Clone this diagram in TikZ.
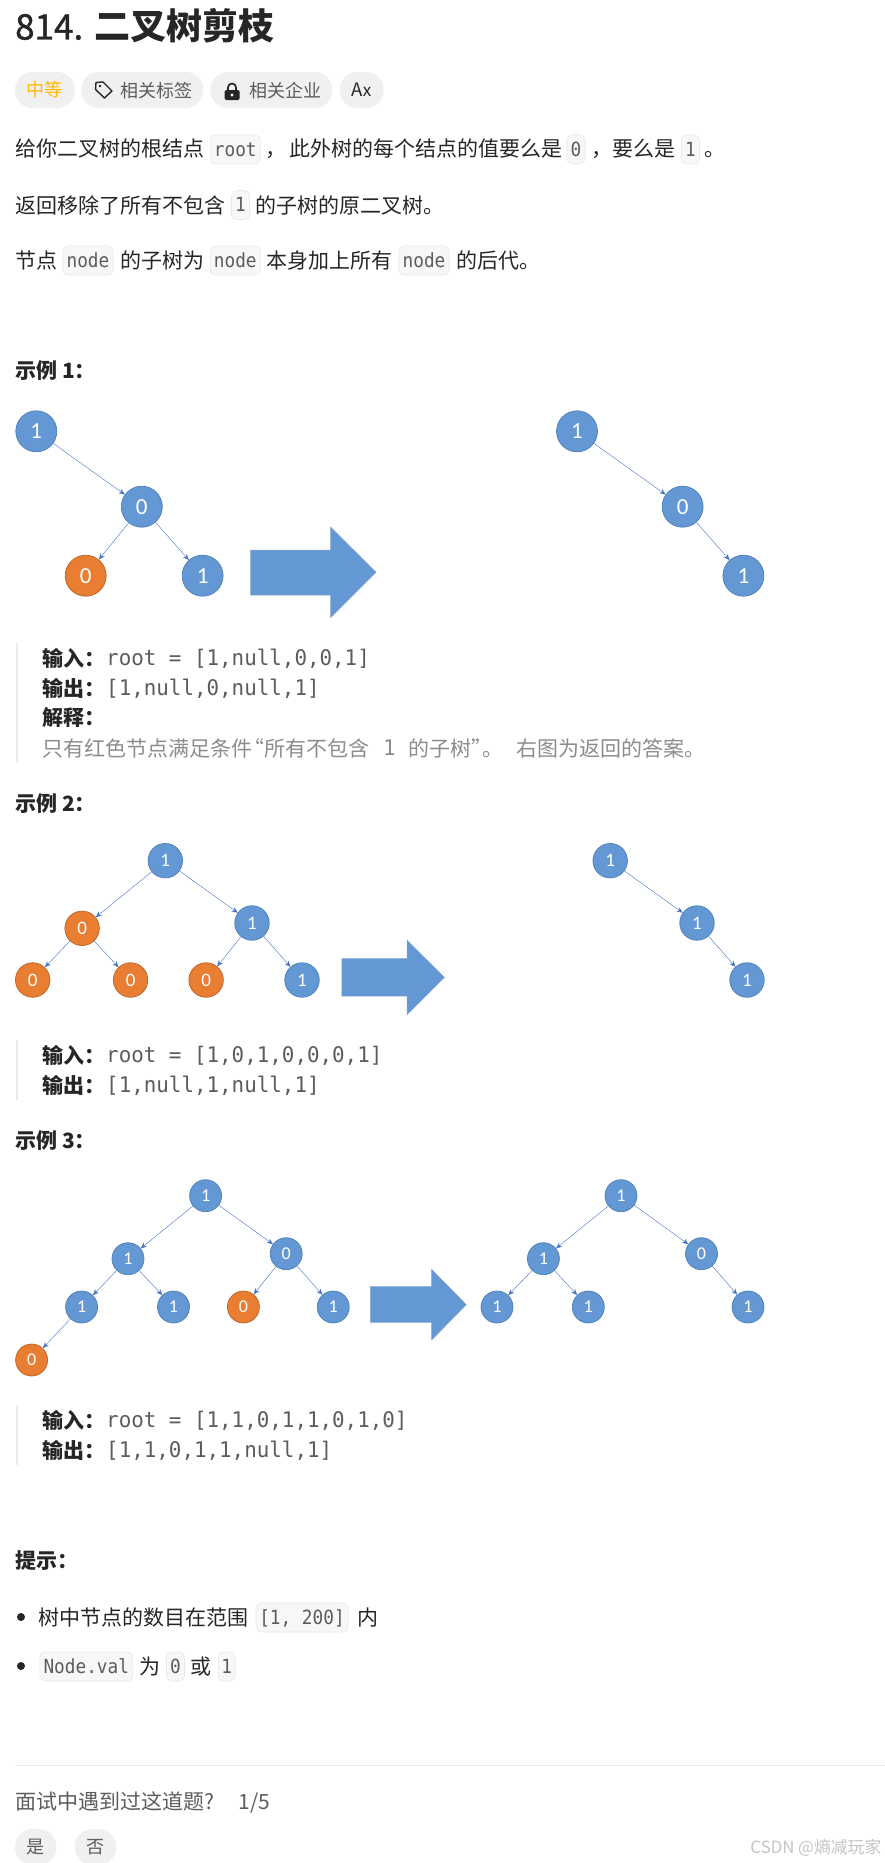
\documentclass[tikz,border=0pt]{standalone}
\usepackage{fontspec}
\setmainfont{Noto Sans CJK SC}
\setmonofont{DejaVu Sans Mono}
\newfontfamily\digitfont{Carlito}
\newfontfamily\titlefont[FakeBold=1.3]{Noto Sans CJK SC}
\newfontfamily\codefont[FakeStretch=0.91]{DejaVu Sans Mono}
\newfontfamily\quotefont[FakeStretch=0.97]{DejaVu Sans Mono}
\usepackage{xcolor}
\usetikzlibrary{arrows, arrows.meta, positioning}
\definecolor{inkdark}{HTML}{262626}
\definecolor{inkgray}{HTML}{5C5C5C}
\definecolor{inklight}{HTML}{8C8C8C}
\definecolor{pillbg}{HTML}{F0F0F0}
\definecolor{codebg}{HTML}{F7F7F8}
\definecolor{codeline}{HTML}{E8E8E8}
\definecolor{barline}{HTML}{EAEAEA}
\definecolor{amber}{HTML}{FFB800}
\definecolor{treeblue}{HTML}{6498D4}
\definecolor{treeedge}{HTML}{4C7FB5}
\definecolor{treeorange}{HTML}{E97D32}
\definecolor{orangeedge}{HTML}{B8642A}
\definecolor{linkblue}{HTML}{4472C4}
\definecolor{markgray}{HTML}{C4C4C4}

\begin{document}
\begin{tikzpicture}[
    x=1pt, y=-1pt,
    every node/.style={inner sep=0pt, text=inkdark},
    arrow/.style={-{Stealth[length=6pt,width=5pt]}, draw=linkblue, line width=.4pt},
    txt/.style={anchor=west, text height=18.5pt, text depth=2.5pt, font=\fontsize{21}{25}\selectfont},
    headtxt/.style={txt, font=\fontsize{21}{25}\selectfont\bfseries},
    graytxt/.style={txt, text=inkgray},
    lighttxt/.style={txt, text=inklight},
    smalltxt/.style={anchor=west, text height=16pt, text depth=2pt, text=inkgray, font=\fontsize{18}{22}\selectfont},
    quotetxt/.style={anchor=west, text=inkgray, text height=15pt, text depth=1pt, font=\quotefont\fontsize{21.5}{25}\selectfont},
    quotebar/.style={draw=barline, line width=2.5pt},
    pill/.style={fill=pillbg, rounded corners=17.5pt, minimum height=36pt},
    codebox/.style={draw=codeline, fill=codebg, rounded corners=5pt, minimum height=29pt, text height=13pt, text depth=0pt, text=inkgray, line width=.6pt, font=\codefont\fontsize{19.5}{23}\selectfont},
    bluenode/.style={circle, draw=treeedge, fill=treeblue, text=white, line width=.7pt},
    orangenode/.style={circle, draw=orangeedge, fill=treeorange, text=white, line width=.7pt},
    bigtree/.style={minimum size=41pt, font=\digitfont\fontsize{23}{26}\selectfont},
    midtree/.style={minimum size=34.5pt, font=\digitfont\fontsize{19}{22}\selectfont},
    smalltree/.style={minimum size=32pt, font=\digitfont\fontsize{18}{21}\selectfont},
    bigarrow/.style={fill=treeblue, draw=treeedge!70, line width=.5pt}
  ]
  \useasboundingbox (0,0) rectangle (885,1863);

  % Title
  \node[anchor=west, font=\titlefont\fontsize{35}{40}\selectfont] (titlenum) at (15,27) {814.};
  \node[anchor=west, font=\fontsize{36}{40}\selectfont\bfseries] (titlename) at (94,26) {二叉树剪枝};

  % Pills under the title
  \node[pill, minimum width=60pt, text=amber, font=\fontsize{18}{22}\selectfont] (level) at (45,90) {中等};
  \node[pill, minimum width=122pt] (tagpill) at (142.3,90) {};
  \node[smalltxt] (tagtext) at (120,90) {相关标签};
  \node[pill, minimum width=122pt] (firmpill) at (271.3,90) {};
  \node[smalltxt] (firmtext) at (249,90) {相关企业};
  \node[pill, minimum width=44pt, font=\fontsize{18.5}{22}\selectfont] (langpill) at (361.7,90) {A\kern-.3pt{\fontsize{17}{18}\selectfont x}};

  % Tag icon
  \draw[inkdark, line width=1.4pt, line join=round] (96,82.5) -- (103,82) -- (112,91) -- (104.5,98) -- (95.5,89.5) -- cycle;
  \fill[inkdark] (100,86) circle (1.3pt);

  % Lock icon
  \draw[inkdark, line width=1.7pt] (228,91) -- (228,87.5) arc (180:360:4) -- (236,91);
  \fill[inkdark, rounded corners=1.5pt] (224.5,90) rectangle (239.5,100);
  \fill[white] (232,95) circle (1.7pt);

  % First paragraph
  \node[txt] (parta) at (15,148.5) {给你二叉树的根结点};
  \node[codebox, minimum width=50pt] (coderoot) at (235.3,149.5) {root};
  \node[txt] (commaa) at (265,148.5) {，};
  \node[txt] (partb) at (289,148.5) {此外树的每个结点的值要么是};
  \node[codebox, minimum width=18pt] (codezero) at (576,149.5) {0};
  \node[txt] (commab) at (591,148.5) {，};
  \node[txt] (partc) at (612.5,148.5) {要么是};
  \node[codebox, minimum width=18pt] (codeone) at (690.5,149.5) {1};
  \node[txt] (stopa) at (704,148.5) {。};

  % Second paragraph
  \node[txt] (partd) at (15,205) {返回移除了所有不包含};
  \node[codebox, minimum width=18pt] (codetwo) at (240.5,205) {1};
  \node[txt] (parte) at (255,205) {的子树的原二叉树。};

  % Third paragraph
  \node[txt] (partf) at (15,260) {节点};
  \node[codebox, minimum width=50pt] (nodea) at (88,260.5) {node};
  \node[txt] (partg) at (120,260) {的子树为};
  \node[codebox, minimum width=50pt] (nodeb) at (235.3,260.5) {node};
  \node[txt] (parth) at (266.5,260) {本身加上所有};
  \node[codebox, minimum width=50pt] (nodec) at (424,260.5) {node};
  \node[txt] (parti) at (456,260) {的后代。};

  % Example 1
  \node[headtxt] (exone) at (15,370.5) {示例 1：};
  \node[bluenode, bigtree] (aroot) at (36.3,431.3) {1};
  \node[bluenode, bigtree] (amid) at (141.8,506.7) {0};
  \node[orangenode, bigtree] (aleft) at (85.7,575.7) {0};
  \node[bluenode, bigtree] (aright) at (202.6,575.7) {1};
  \draw[arrow] (aroot) -- (amid);
  \draw[arrow] (amid) -- (aleft);
  \draw[arrow] (amid) -- (aright);
  \draw[bigarrow] (250.5,550) -- (330.6,550) -- (330.6,527) -- (376,572.3) -- (330.6,617.7) -- (330.6,595) -- (250.5,595) -- cycle;
  \node[bluenode, bigtree] (broot) at (577,431.3) {1};
  \node[bluenode, bigtree] (bmid) at (682.6,506.7) {0};
  \node[bluenode, bigtree] (bright) at (743.4,575.7) {1};
  \draw[arrow] (broot) -- (bmid);
  \draw[arrow] (bmid) -- (bright);

  % Quote of example 1
  \draw[quotebar] (17,643) -- (17,763);
  \node[headtxt] (ina) at (42,658) {输入：};
  \node[quotetxt] (inavalue) at (106,658) {root = [1,null,0,0,1]};
  \node[headtxt] (outa) at (42,688) {输出：};
  \node[quotetxt] (outavalue) at (106,688) {[1,null,0,null,1]};
  \node[headtxt] (whya) at (42,717) {解释：};
  \node[lighttxt] (whyb) at (42,748) {只有红色节点满足条件};
  \node[lighttxt] (whyc) at (243,748) {“所有不包含};
  \node[quotetxt, text=inklight] (whyd) at (383,748) {1};
  \node[lighttxt] (whye) at (408,748) {的子树”};
  \node[lighttxt] (whyf) at (482,748) {。};
  \node[lighttxt] (whyg) at (516,748) {右图为返回的答案。};

  % Example 2
  \node[headtxt] (extwo) at (15,803) {示例 2：};
  \node[bluenode, midtree] (croot) at (165.3,860.7) {1};
  \node[orangenode, midtree] (cleft) at (82.1,928.3) {0};
  \node[bluenode, midtree] (cright) at (252,923) {1};
  \node[orangenode, midtree] (cll) at (32.7,980) {0};
  \node[orangenode, midtree] (clr) at (130.6,980) {0};
  \node[orangenode, midtree] (crl) at (206.1,980) {0};
  \node[bluenode, midtree] (crr) at (302,980) {1};
  \draw[arrow] (croot) -- (cleft);
  \draw[arrow] (croot) -- (cright);
  \draw[arrow] (cleft) -- (cll);
  \draw[arrow] (cleft) -- (clr);
  \draw[arrow] (cright) -- (crl);
  \draw[arrow] (cright) -- (crr);
  \draw[bigarrow] (341.8,958.7) -- (407,958.7) -- (407,940.3) -- (444.4,977.3) -- (407,1014.7) -- (407,996) -- (341.8,996) -- cycle;
  \node[bluenode, midtree] (droot) at (610.2,860.7) {1};
  \node[bluenode, midtree] (dmid) at (697,923) {1};
  \node[bluenode, midtree] (dright) at (747,980) {1};
  \draw[arrow] (droot) -- (dmid);
  \draw[arrow] (dmid) -- (dright);

  % Quote of example 2
  \draw[quotebar] (17,1040) -- (17,1099.5);
  \node[headtxt] (inb) at (42,1055) {输入：};
  \node[quotetxt] (inbvalue) at (106,1055) {root = [1,0,1,0,0,0,1]};
  \node[headtxt] (outb) at (42,1085) {输出：};
  \node[quotetxt] (outbvalue) at (106,1085) {[1,null,1,null,1]};

  % Example 3
  \node[headtxt] (exthree) at (15,1140) {示例 3：};
  \node[bluenode, smalltree] (eroot) at (205.6,1195.7) {1};
  \node[bluenode, smalltree] (eleft) at (128,1258.7) {1};
  \node[bluenode, smalltree] (eright) at (286.2,1253.7) {0};
  \node[bluenode, smalltree] (ell) at (81.6,1307) {1};
  \node[bluenode, smalltree] (elr) at (173.5,1307) {1};
  \node[orangenode, smalltree] (erl) at (243.4,1307) {0};
  \node[bluenode, smalltree] (err) at (333.2,1307) {1};
  \node[orangenode, smalltree] (elll) at (31.6,1360) {0};
  \draw[arrow] (eroot) -- (eleft);
  \draw[arrow] (eroot) -- (eright);
  \draw[arrow] (eleft) -- (ell);
  \draw[arrow] (eleft) -- (elr);
  \draw[arrow] (eright) -- (erl);
  \draw[arrow] (eright) -- (err);
  \draw[arrow] (ell) -- (elll);
  \draw[bigarrow] (370.4,1286.7) -- (431.6,1286.7) -- (431.6,1269.3) -- (466.3,1304.7) -- (431.6,1340) -- (431.6,1322.3) -- (370.4,1322.3) -- cycle;
  \node[bluenode, smalltree] (froot) at (621,1195.7) {1};
  \node[bluenode, smalltree] (fleft) at (543.4,1258.7) {1};
  \node[bluenode, smalltree] (fright) at (701.5,1253.7) {0};
  \node[bluenode, smalltree] (fll) at (497,1307) {1};
  \node[bluenode, smalltree] (flr) at (588.3,1307) {1};
  \node[bluenode, smalltree] (frr) at (748,1307) {1};
  \draw[arrow] (froot) -- (fleft);
  \draw[arrow] (froot) -- (fright);
  \draw[arrow] (fleft) -- (fll);
  \draw[arrow] (fleft) -- (flr);
  \draw[arrow] (fright) -- (frr);

  % Quote of example 3
  \draw[quotebar] (17,1405) -- (17,1465);
  \node[headtxt] (inc) at (42,1420) {输入：};
  \node[quotetxt] (incvalue) at (106,1420) {root = [1,1,0,1,1,0,1,0]};
  \node[headtxt] (outc) at (42,1450) {输出：};
  \node[quotetxt] (outcvalue) at (106,1450) {[1,1,0,1,1,null,1]};

  % Hints
  \node[headtxt] (hint) at (15,1560.5) {提示：};
  \fill[inkdark] (21,1617) circle (4pt);
  \node[txt] (hinta) at (38,1617) {树中节点的数目在范围};
  \node[codebox, minimum width=92pt] (coderange) at (302,1617.5) {[1, 200]};
  \node[txt] (hintb) at (357,1617) {内};
  \fill[inkdark] (21,1666) circle (4pt);
  \node[codebox, minimum width=93pt] (codeval) at (86.3,1666.5) {Node.val};
  \node[txt] (hintc) at (139,1666) {为};
  \node[codebox, minimum width=18pt] (codeza) at (175.5,1666.5) {0};
  \node[txt] (hintd) at (190.5,1666) {或};
  \node[codebox, minimum width=17pt] (codezb) at (226.8,1666.5) {1};

  % Footer
  \draw[barline, line width=.8pt] (15,1765) -- (885,1765);
  \node[graytxt] (asked) at (15,1801.5) {面试中遇到过这道题?};
  \node[graytxt] (ratio) at (238.5,1801.5) {1/5};
  \node[pill, minimum width=41.4pt, text=inkgray, font=\fontsize{18}{22}\selectfont] (yesbtn) at (35.7,1847) {是};
  \node[pill, minimum width=41.4pt, text=inkgray, font=\fontsize{18}{22}\selectfont] (nobtn) at (95.4,1847) {否};
  \node[anchor=east, text=markgray, font=\fontsize{16.8}{20}\selectfont] (mark) at (881.5,1848) {CSDN @熵减玩家};
\end{tikzpicture}
\end{document}
